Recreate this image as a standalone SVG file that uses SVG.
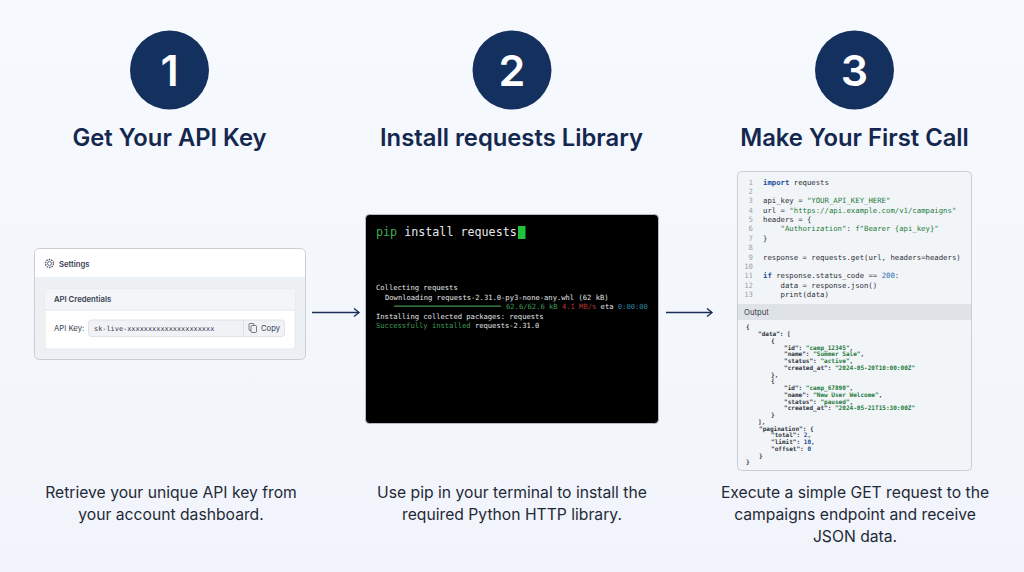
<svg xmlns="http://www.w3.org/2000/svg" width="1024" height="572" viewBox="0 0 1024 572">
<style>
.t{font-family:Inter,"Liberation Sans",sans-serif;font-weight:600;font-size:23.8px;fill:#14274e;text-anchor:middle}
.n{font-family:Inter,"Liberation Sans",sans-serif;font-weight:600;font-size:43px;fill:#fff;text-anchor:middle}
.d{font-family:Inter,"Liberation Sans",sans-serif;font-size:15.7px;fill:#1f2937;text-anchor:middle}
.ui{font-family:Inter,"Liberation Sans",sans-serif;font-size:7.7px;fill:#374151}
.m{font-family:"DejaVu Sans Mono","Liberation Mono",monospace}
.s{font-size:7.15px;fill:#e2e5e8}
.c{font-size:7.3px;fill:#2a2e36}
.ln{font-size:7.3px;fill:#9aa1ab;text-anchor:end}
.o{font-size:6.05px;fill:#30343c;font-weight:700}
.g{fill:#1f7a3a}.k{fill:#1e4f9c}.b{fill:#2a6cb0}
.ar{fill:none;stroke:#1b2d59;stroke-width:1.4}
</style>
<defs><marker id="a" markerWidth="12" markerHeight="12" refX="9" refY="5" orient="auto" markerUnits="userSpaceOnUse"><path d="M4 1L9 5L4 9" fill="none" stroke="#1b2d59" stroke-width="1.4"/></marker>
<linearGradient id="bg" x1="0" y1="0" x2="0" y2="1"><stop offset="0" stop-color="#f6f9fd"/><stop offset="1" stop-color="#f1f5fb"/></linearGradient></defs>
<rect width="1024" height="572" fill="url(#bg)"/>
<g id="step1">
<circle cx="169.500" cy="70" r="39.500" fill="#14305f"/><text class="n" x="169.500" y="86">1</text>
<text class="t" x="169.500" y="146">Get Your API Key</text>
<rect x="34.500" y="248.500" width="271" height="111" rx="5" fill="#eef1f4" stroke="#c9ced5"/>
<path d="M35 277V253.500a4.500 4.500 0 0 1 4.500-4.500H300.500a4.500 4.500 0 0 1 4.500 4.500V277Z" fill="#fff"/>
<circle cx="49.500" cy="263.500" r="2" fill="none" stroke="#555c66" stroke-width="0.9"/><circle cx="49.500" cy="263.500" r="4" fill="none" stroke="#555c66" stroke-width="1.3" stroke-dasharray="1.6 0.9"/>
<text class="ui" x="59" y="266.500" font-weight="600">Settings</text>
<rect x="45" y="289" width="250" height="60" rx="3" fill="#fff" stroke="#e2e5e9" stroke-width="0.8"/>
<path d="M45 310V292a3 3 0 0 1 3-3H292a3 3 0 0 1 3 3V310Z" fill="#f3f5f7"/><path d="M45 310H295" stroke="#e2e5e9"/>
<text class="ui" x="54" y="302" font-weight="600">API Credentials</text>
<text class="ui" x="54" y="331">API Key:</text>
<rect x="88.500" y="320" width="196" height="16.500" rx="3" fill="#f0f2f5" stroke="#d8dce1" stroke-width="0.8"/>
<path d="M243.500 320V336.500" stroke="#d8dce1" stroke-width="0.8"/>
<text class="m" x="94" y="331" font-size="6.900" fill="#374151">sk-live-xxxxxxxxxxxxxxxxxxxxx</text>
<rect x="249" y="323.500" width="5" height="7" rx="1" fill="none" stroke="#555c66" stroke-width="0.8"/><rect x="251" y="325.500" width="5.500" height="7" rx="1" fill="#f0f2f5" stroke="#555c66" stroke-width="0.8"/>
<text class="ui" x="261" y="331">Copy</text>
<text class="d" x="171" y="498">Retrieve your unique API key from</text>
<text class="d" x="171" y="520">your account dashboard.</text>
</g>
<g id="step2">
<circle cx="512" cy="70" r="39.500" fill="#14305f"/><text class="n" x="512" y="86">2</text>
<text class="t" x="511.500" y="146">Install requests Library</text>
<rect x="365.500" y="214.500" width="293" height="209" rx="4" fill="#000" stroke="#b6bcc4"/>
<text class="m" x="376" y="236" font-size="11.700"><tspan fill="#3fae55">pip</tspan><tspan fill="#e8e8e8"> install requests</tspan></text>
<rect x="518" y="226" width="7.500" height="13" fill="#1fc23c"/>
<g class="m s">
<text x="376" y="290">Collecting requests</text>
<text x="385" y="299.500">Downloading requests-2.31.0-py3-none-any.whl (62 kB)</text>
<text x="506" y="309"><tspan fill="#3f9c55">62.6/62.6 kB</tspan><tspan fill="#b03a3a"> 4.1 MB/s</tspan> eta <tspan fill="#2f89a8">0:00:00</tspan></text>
<text x="376" y="318.500">Installing collected packages: requests</text>
<text x="376" y="327.500"><tspan fill="#3f9c55">Successfully installed</tspan> requests-2.31.0</text>
</g>
<rect x="394" y="305.500" width="107" height="1.300" fill="#3f8c50"/>
<text class="d" x="512" y="498">Use pip in your terminal to install the</text>
<text class="d" x="512" y="520">required Python HTTP library.</text>
</g>
<g id="step3">
<circle cx="854.500" cy="70" r="39.500" fill="#14305f"/><text class="n" x="854.500" y="86">3</text>
<text class="t" x="854.500" y="146">Make Your First Call</text>
<rect x="737.500" y="171.500" width="234" height="299" rx="4" fill="#f2f5f8" stroke="#c9ced5"/>
<path d="M738 304H971V320H738Z" fill="#dfe2e6"/>
<g class="m ln">
<text x="753" y="184.500">1</text><text x="753" y="194">2</text><text x="753" y="203">3</text><text x="753" y="212.500">4</text><text x="753" y="222">5</text><text x="753" y="231">6</text><text x="753" y="240.500">7</text><text x="753" y="250">8</text><text x="753" y="259.500">9</text><text x="753" y="268.500">10</text><text x="753" y="278">11</text><text x="753" y="287.500">12</text><text x="753" y="297">13</text>
</g>
<g class="m c">
<text x="763" y="184.500"><tspan class="k" font-weight="700">import</tspan> requests</text>
<text x="763" y="203">api_key = <tspan class="g">"YOUR_API_KEY_HERE"</tspan></text>
<text x="763" y="212.500">url = <tspan class="g">"https://api.example.com/v1/campaigns"</tspan></text>
<text x="763" y="222">headers = {</text>
<text x="780.500" y="231"><tspan class="g">"Authorization"</tspan>: <tspan class="g">f"Bearer {api_key}"</tspan></text>
<text x="763" y="240.500">}</text>
<text x="763" y="259.500">response = requests.get(url, headers=headers)</text>
<text x="763" y="278"><tspan class="k" font-weight="700">if</tspan> response.status_code == <tspan class="b">200</tspan>:</text>
<text x="780.500" y="287.500">data = response.json()</text>
<text x="780.500" y="297">print(data)</text>
</g>
<text class="ui" x="744" y="315">Output</text>
<g class="m o">
<text x="746" y="329">{</text>
<text x="758" y="336">"data": [</text>
<text x="771" y="342.500">{</text>
<text x="784" y="349.500">"id": <tspan class="g">"camp_12345"</tspan>,</text>
<text x="784" y="356">"name": <tspan class="g">"Summer Sale"</tspan>,</text>
<text x="784" y="363">"status": <tspan class="g">"active"</tspan>,</text>
<text x="784" y="369.500">"created_at": <tspan class="g">"2024-05-20T10:00:00Z"</tspan></text>
<text x="771" y="376.500">},</text>
<text x="771" y="383">{</text>
<text x="784" y="390">"id": <tspan class="g">"camp_67890"</tspan>,</text>
<text x="784" y="396.500">"name": <tspan class="g">"New User Welcome"</tspan>,</text>
<text x="784" y="403.500">"status": <tspan class="g">"paused"</tspan>,</text>
<text x="784" y="410">"created_at": <tspan class="g">"2024-05-21T15:30:00Z"</tspan></text>
<text x="771" y="417">}</text>
<text x="758" y="423.500">],</text>
<text x="759" y="430.500">"pagination": {</text>
<text x="771" y="437">"total": <tspan class="k">2</tspan>,</text>
<text x="771" y="444">"limit": <tspan class="k">10</tspan>,</text>
<text x="771" y="450.500">"offset": <tspan class="k">0</tspan></text>
<text x="759" y="457.500">}</text>
<text x="746" y="464">}</text>
</g>
<text class="d" x="855" y="498">Execute a simple GET request to the</text>
<text class="d" x="855" y="520">campaigns endpoint and receive</text>
<text class="d" x="855" y="542">JSON data.</text>
</g>
<g id="connectors">
<path class="ar" d="M312 312.500H359" marker-end="url(#a)"/>
<path class="ar" d="M666 312.500H712" marker-end="url(#a)"/>
</g>
</svg>
